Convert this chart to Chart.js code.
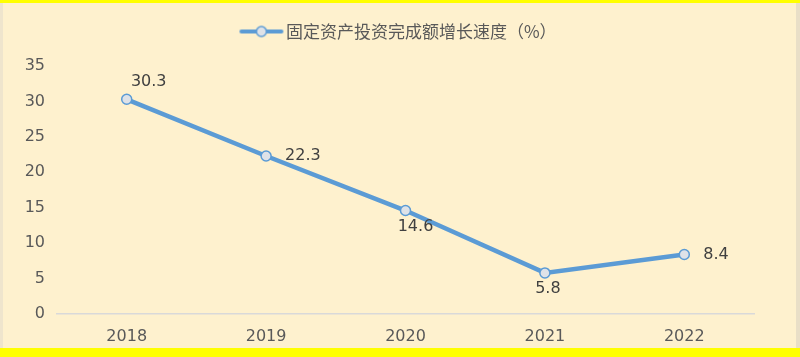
<!DOCTYPE html>
<html><head><meta charset="utf-8">
<script src="https://cdn.jsdelivr.net/npm/chart.js@4/dist/chart.umd.min.js"></script>
<style>
html,body{margin:0;padding:0;background:#FFFF00;}
#wrap{position:absolute;left:0;top:0;width:800px;height:357px;background:#FFFF00;}
#inner{position:absolute;left:0;top:3px;width:800px;height:345px;background:#FEF1CE;border-left:3px solid #EFE5CD;border-right:4px solid #E9DFC7;box-sizing:border-box;}
#c{position:absolute;left:0;top:0;}
</style></head>
<body>
<div id="wrap"><div id="inner"></div><canvas id="c" width="800" height="357"></canvas></div>
<script>
const categories = ['2018','2019','2020','2021','2022'];
const growthRate = [30.3, 22.3, 14.6, 5.8, 8.4];
const seriesName = '固定资产投资完成额增长速度（%）';
const yTicks = [0,5,10,15,20,25,30,35];
const labelPlacement = ['aboveRight','right','below','below','right'];

const BLUE = '#5B9BD5';
// legend icon: line with marker, drawn on right part of an asymmetric image
const legendIcon = document.createElement('canvas');
legendIcon.width = 54; legendIcon.height = 14;
(function(){
  const g = legendIcon.getContext('2d');
  g.strokeStyle = BLUE; g.lineWidth = 4; g.lineCap='round';
  g.beginPath(); g.moveTo(9,7); g.lineTo(49,7); g.stroke();
  g.beginPath(); g.arc(29,7,5,0,Math.PI*2);
  g.fillStyle = '#DEE2E8'; g.fill();
  g.lineWidth = 1.5; g.stroke();
})();

const legendSpace = {
  id:'legendSpace',
  beforeInit(chart){
    const lg = chart.legend;
    if (lg && !lg._patched){
      const fit = lg.fit;
      lg.fit = function(){ fit.call(this); this.height += 16; };
      lg._patched = true;
    }
  },
  afterLayout(chart){
    if (chart.legend) chart.legend.right += 44;
  }
};

const labelPlugin = {
  id:'pointLabels',
  afterDatasetsDraw(chart){
    const ctx = chart.ctx;
    const meta = chart.getDatasetMeta(0);
    ctx.save();
    ctx.font = '16px "DejaVu Sans"';
    ctx.fillStyle = '#404040';
    ctx.textBaseline = 'middle';
    meta.data.forEach((pt,i)=>{
      const v = chart.data.datasets[0].data[i];
      const t = String(v);
      const p = labelPlacement[i];
      let x = pt.x, y = pt.y;
      if (p==='aboveRight'){ ctx.textAlign='center'; x += 22; y -= 17; }
      else if (p==='right'){ ctx.textAlign='left'; x += 19; }
      else if (p==='below'){ ctx.textAlign='center'; x += (i===2?10:3); y += 16; }
      ctx.fillText(t,x,y);
    });
    ctx.restore();
  }
};

new Chart(document.getElementById('c'),{
  type:'line',
  data:{labels:categories,datasets:[{
    label:seriesName,data:growthRate,
    borderColor:BLUE,borderWidth:4.5,tension:0,
    pointRadius:5,pointHoverRadius:5,pointBackgroundColor:'#DEE2E8',pointBorderColor:BLUE,pointBorderWidth:1.5,
    pointStyle:'circle'
  }]},
  options:{
    responsive:false,animation:false,
    layout:{padding:{left:0,right:46,top:0,bottom:0}},
    plugins:{
      tooltip:{enabled:false},
      legend:{position:'top',labels:{usePointStyle:true,pointStyle:legendIcon,pointStyleWidth:36,
        font:{family:'"Noto Sans CJK SC"',size:17},color:'#595959',padding:23,boxHeight:14}}
    },
    scales:{
      x:{offset:true,grid:{display:false,drawTicks:false},border:{display:true,color:'#D9D9D9',width:1.5},
        ticks:{font:{family:'"DejaVu Sans"',size:16},color:'#595959',padding:13},
        afterFit(s){s.height=43;}},
      y:{min:0,max:35,grid:{display:false,drawTicks:false},border:{display:false},
        afterBuildTicks(s){s.ticks=yTicks.map(v=>({value:v}));},
        ticks:{font:{family:'"DejaVu Sans"',size:16},color:'#595959',padding:12},
        afterFit(s){s.width=57;}}
    }
  },
  plugins:[legendSpace,labelPlugin]
});
</script>
</body></html>
